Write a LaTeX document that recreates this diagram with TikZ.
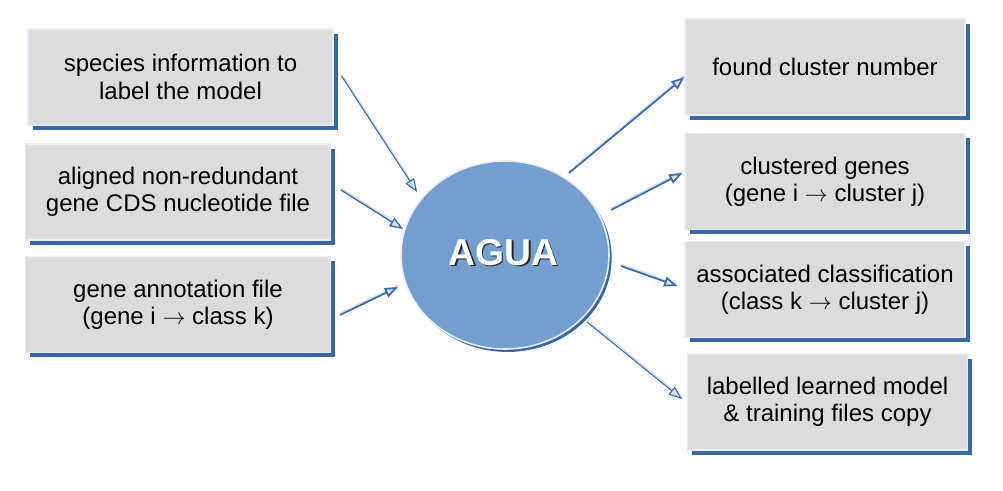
\documentclass[tikz,border=0pt]{standalone}
\usepackage{fontspec}
\setmainfont{Liberation Sans}
\usetikzlibrary{shapes.geometric,shadows,arrows.meta}
\definecolor{boxfill}{HTML}{DCDCDC}
\definecolor{boxedge}{HTML}{E8EDF5}
\definecolor{shadowblue}{HTML}{3B65A5}
\definecolor{ellfill}{HTML}{729FCF}
\definecolor{arrblue}{HTML}{3C6AAA}
\definecolor{arrlight}{HTML}{D3DFEF}
\newcommand{\maps}{\ensuremath{\rightarrow}}
\begin{document}
\begin{tikzpicture}[x=0.75pt,y=-0.75pt,
  box/.style={rectangle, fill=boxfill, draw=boxedge, line width=0.8pt, align=center,
    font=\fontsize{18}{20.5}\selectfont, text=black, inner sep=0pt, minimum height=72pt,
    drop shadow={shadow xshift=3.4pt, shadow yshift=-3.6pt, fill=shadowblue, opacity=1}},
  lbox/.style={box, minimum width=228.75pt},
  rbox/.style={box, minimum width=210pt},
  core/.style={ellipse, fill=ellfill, draw=boxedge, line width=1.2pt, minimum width=156pt, minimum height=141pt,
    drop shadow={shadow xshift=2pt, shadow yshift=-2.2pt, fill=shadowblue, opacity=1}},
  arr/.style={draw=arrblue, line width=1.3pt, -{Triangle[length=10pt,width=7.5pt,fill=arrlight]},
    preaction={draw=arrlight, line width=1.2pt, -, transform canvas={yshift=1.3pt}}},
  thinarr/.style={arr, line width=0.8pt},
]
\useasboundingbox (0,0) rectangle (1003,490);
\fill[white] (0,0) rectangle (1003,490);

\node[lbox] (in1) at (180.5,77) {species information to\\label the model};
\node[lbox] (in2) at (178,192) {aligned non-redundant\\gene CDS nucleotide file};
\node[lbox] (in3) at (178,304.5) {gene annotation file\\(gene i \maps{} class k)};

\node[rbox] (out1) at (825,67) {found cluster number};
\node[rbox] (out2) at (825,181.5) {clustered genes\\(gene i \maps{} cluster j)};
\node[rbox] (out3) at (825,289.5) {associated classification\\(class k \maps{} cluster j)};
\node[rbox] (out4) at (827.5,402) {labelled learned model\\\& training files copy};

\node[core] (agua) at (505,255) {};
\node[text=black!85, font=\fontsize{28}{30}\selectfont\bfseries] (aguashade) at (505,254) {AGUA};
\node[text=white, font=\fontsize{28}{30}\selectfont\bfseries] (agualabel) at (503.5,252.5) {AGUA};

\draw[thinarr] ([shift={(8,-1)}]in1.east) -- ([shift={(-88,-63)}]agua.center);
\draw[arr, line width=1pt] ([shift={(10,-2)}]in2.east) -- ([shift={(-102,-26)}]agua.center);
\draw[arr] ([shift={(9,10.5)}]in3.east) -- ([shift={(-107,32)}]agua.center);

\draw[arr] ([shift={(64,-82)}]agua.center) -- ([shift={(0,10)}]out1.west);
\draw[arr] ([shift={(106,-45)}]agua.center) -- ([shift={(-2,-8.5)}]out2.west);
\draw[arr] ([shift={(116,11)}]agua.center) -- ([shift={(-7,-3.5)}]out3.west);
\draw[thinarr] ([shift={(82,67)}]agua.center) -- ([shift={(-5,-3)}]out4.west);
\end{tikzpicture}
\end{document}
